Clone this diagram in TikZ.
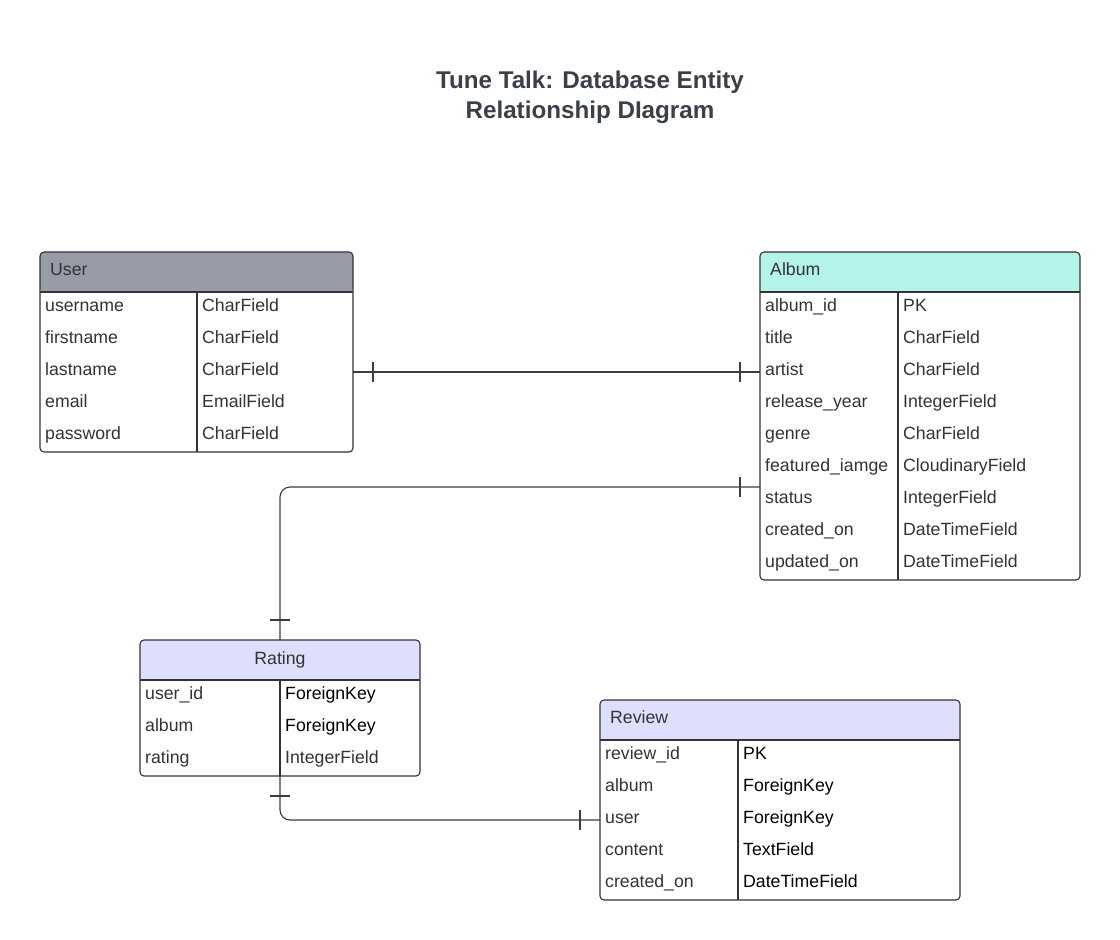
\documentclass[tikz,border=0pt]{standalone}
\usepackage{fontspec}
\setmainfont{Liberation Sans}
\usetikzlibrary{decorations.markings}

\definecolor{ink}{RGB}{51,51,51}
\definecolor{titleink}{RGB}{58,64,72}
\definecolor{linkgray}{RGB}{60,60,60}
\definecolor{usergray}{RGB}{151,156,166}
\definecolor{albumaqua}{RGB}{179,243,234}
\definecolor{lavender}{RGB}{222,223,252}

% One entity table: #1 name, #2 left, #3 top, #4 width,
% #5 width of the key column, #6 number of rows, #7 header fill, #8 rows
\newcommand{\ertable}[8]{%
  \node[tablebox, minimum width=#4pt, minimum height={40pt+32pt*#6}, anchor=north west,
    path picture={
      \fill[#7] (path picture bounding box.north west) rectangle
                ([yshift=-40pt]path picture bounding box.north east);
      \draw[gridline] ([yshift=-40pt]path picture bounding box.north west) --
                      ([yshift=-40pt]path picture bounding box.north east);
      \draw[gridline] ([xshift=#5pt,yshift=-40pt]path picture bounding box.north west) --
                      ([xshift=#5pt]path picture bounding box.south west);
    }] (#1) at (#2,#3) {};
  \foreach \fname/\ftype/\fcol [count=\i] in {#8} {
    \node[rowbox, minimum width=#4pt, anchor=north west] (#1-\i) at (#2,{#3+40+32*(\i-1)}) {};
    \node[cell, anchor=base west] (#1-\i-k) at ({#2+5},{#3+59.5+32*(\i-1)}) {\fname};
    \node[cell, text=\fcol, anchor=base west] (#1-\i-v) at ({#2+#5+5},{#3+59.5+32*(\i-1)}) {\ftype};
  }%
}

\begin{document}
\begin{tikzpicture}[x=1pt,y=-1pt,
  tablebox/.style={draw=ink, line width=1.1pt, rounded corners=4pt, fill=white,
    inner sep=0pt, outer sep=0pt},
  gridline/.style={draw=ink, line width=1.1pt},
  rowbox/.style={inner sep=0pt, outer sep=0pt, minimum height=32pt},
  cell/.style={font=\fontsize{17.7}{21}\selectfont, text=ink, inner sep=0pt},
  headtext/.style={cell},
  titletext/.style={font=\fontsize{24.2}{30}\selectfont\bfseries, text=titleink, inner sep=0pt},
  erlink/.style={draw=linkgray, line width=1.1pt, rounded corners=10pt,
    postaction={decorate, decoration={markings,
      mark=at position 20pt with {\draw[linkgray, line width=1.1pt] (0pt,-10pt) -- (0pt,10pt);},
      mark=at position -20pt with {\draw[linkgray, line width=1.1pt] (0pt,-10pt) -- (0pt,10pt);}}}}
]
\useasboundingbox (0,0) rectangle (1120,940);

% Title
\node[titletext, anchor=base] (title-1) at (590,88) {Tune Talk: Database Entity};
\node[titletext, anchor=base] (title-2) at (590,118) {Relationship DIagram};

% Tables
\ertable{user}{40}{252}{313}{157}{5}{usergray}{%
  username/CharField/ink, firstname/CharField/ink, lastname/CharField/ink,
  email/EmailField/ink, password/CharField/ink}
\node[headtext, anchor=base west] (user-title) at (50,275) {User};

\ertable{album}{760}{252}{320}{138}{9}{albumaqua}{%
  album\_id/PK/ink, title/CharField/ink, artist/CharField/ink,
  release\_year/IntegerField/ink, genre/CharField/ink,
  featured\_iamge/CloudinaryField/ink, status/IntegerField/ink,
  created\_on/DateTimeField/ink, updated\_on/DateTimeField/ink}
\node[headtext, anchor=base west] (album-title) at (770,275) {Album};

\ertable{rating}{140}{640}{280}{140}{3}{lavender}{%
  user\_id/ForeignKey/black, album/ForeignKey/black, rating/IntegerField/ink}
\node[headtext, anchor=base] (rating-title) at (280,664) {Rating};

\ertable{review}{600}{700}{360}{138}{5}{lavender}{%
  review\_id/PK/black, album/ForeignKey/black, user/ForeignKey/black,
  content/TextField/black, created\_on/DateTimeField/black}
\node[headtext, anchor=base west] (review-title) at (610,723) {Review};

% Relationships (one-to-one bars at both ends)
\draw[erlink] (user-3.east) -- (album-3.west);
\draw[erlink] ([yshift=13pt]album-7.west) -| (rating.north);
\draw[erlink] (rating.south) |- (review-3.west);
\end{tikzpicture}
\end{document}
